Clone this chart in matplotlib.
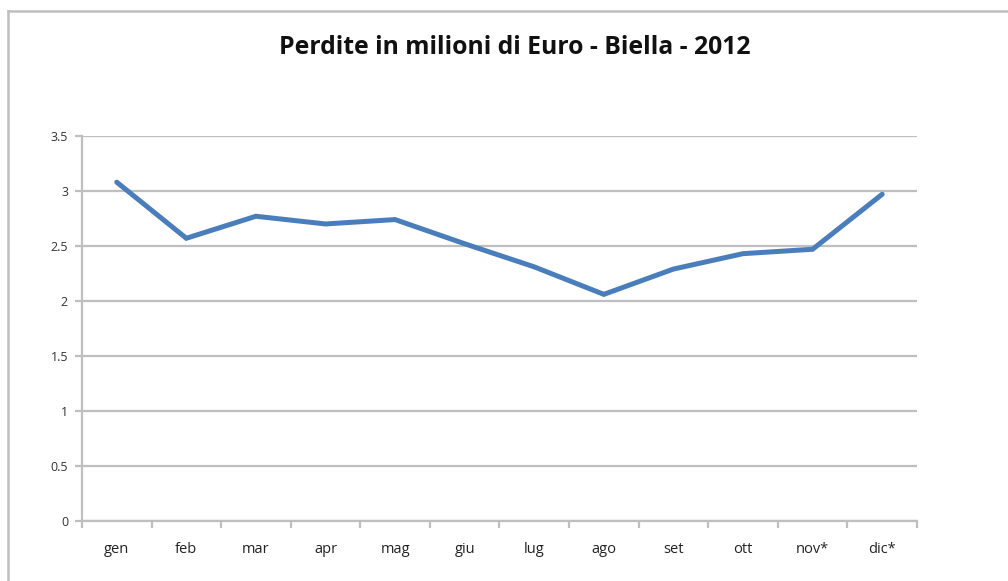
import matplotlib.pyplot as plt
from matplotlib.lines import Line2D
import numpy as np

mesi = ['gen', 'feb', 'mar', 'apr', 'mag', 'giu', 'lug', 'ago', 'set', 'ott', 'nov*', 'dic*']
perdite = [3.08, 2.57, 2.77, 2.70, 2.74, 2.52, 2.31, 2.06, 2.29, 2.43, 2.47, 2.97]
y_ticks = [0, 0.5, 1, 1.5, 2, 2.5, 3, 3.5]
y_labels = ['0', '0.5', '1', '1.5', '2', '2.5', '3', '3.5']

grigio = '#bfbfbf'
blu = '#4a7ebb'

plt.rcParams['font.family'] = ['Open Sans', 'DejaVu Sans']

fig = plt.figure(figsize=(10.08, 5.81), dpi=100)
ax = fig.add_axes([0.0813, 0.1033, 0.8284, 0.6627])

x = np.arange(len(mesi))
ax.plot(x, perdite, color=blu, linewidth=3.6, solid_capstyle='round', solid_joinstyle='miter', zorder=3)

ax.set_xlim(-0.5, len(mesi) - 0.5)
ax.set_ylim(0, 3.5)
ax.set_yticks(y_ticks)
ax.set_yticklabels(y_labels)
ax.yaxis.grid(True, color=grigio, linewidth=1.6)
ax.set_axisbelow(True)

# category labels in the middle, ticks on the boundaries
ax.set_xticks(x)
ax.set_xticklabels(mesi)
ax.set_xticks(np.arange(-0.5, len(mesi)), minor=True)
ax.tick_params(axis='x', which='major', length=0, pad=15, labelsize=10.5, labelcolor='#222222')
ax.tick_params(axis='x', which='minor', length=5, width=1.6, color=grigio, direction='out')
ax.tick_params(axis='y', length=5, width=1.6, color=grigio, pad=5, labelsize=9, labelcolor='#333333')

for s in ['top', 'right']:
    ax.spines[s].set_visible(False)
for s in ['left', 'bottom']:
    ax.spines[s].set_color(grigio)
    ax.spines[s].set_linewidth(1.6)

fig.text(0.511, 0.918, 'Perdite in milioni di Euro - Biella - 2012', ha='center', va='center',
         fontsize=17.8, fontweight='bold', color='#111111')

# outer chart frame (only left and top edges show)
fig.add_artist(Line2D([8 / 1008, 8 / 1008], [0, 1 - 11 / 581], transform=fig.transFigure,
                      color=grigio, linewidth=1.8))
fig.add_artist(Line2D([8 / 1008, 1], [1 - 11 / 581, 1 - 11 / 581], transform=fig.transFigure,
                      color=grigio, linewidth=1.8))

fig.savefig('out.png', dpi=100)
